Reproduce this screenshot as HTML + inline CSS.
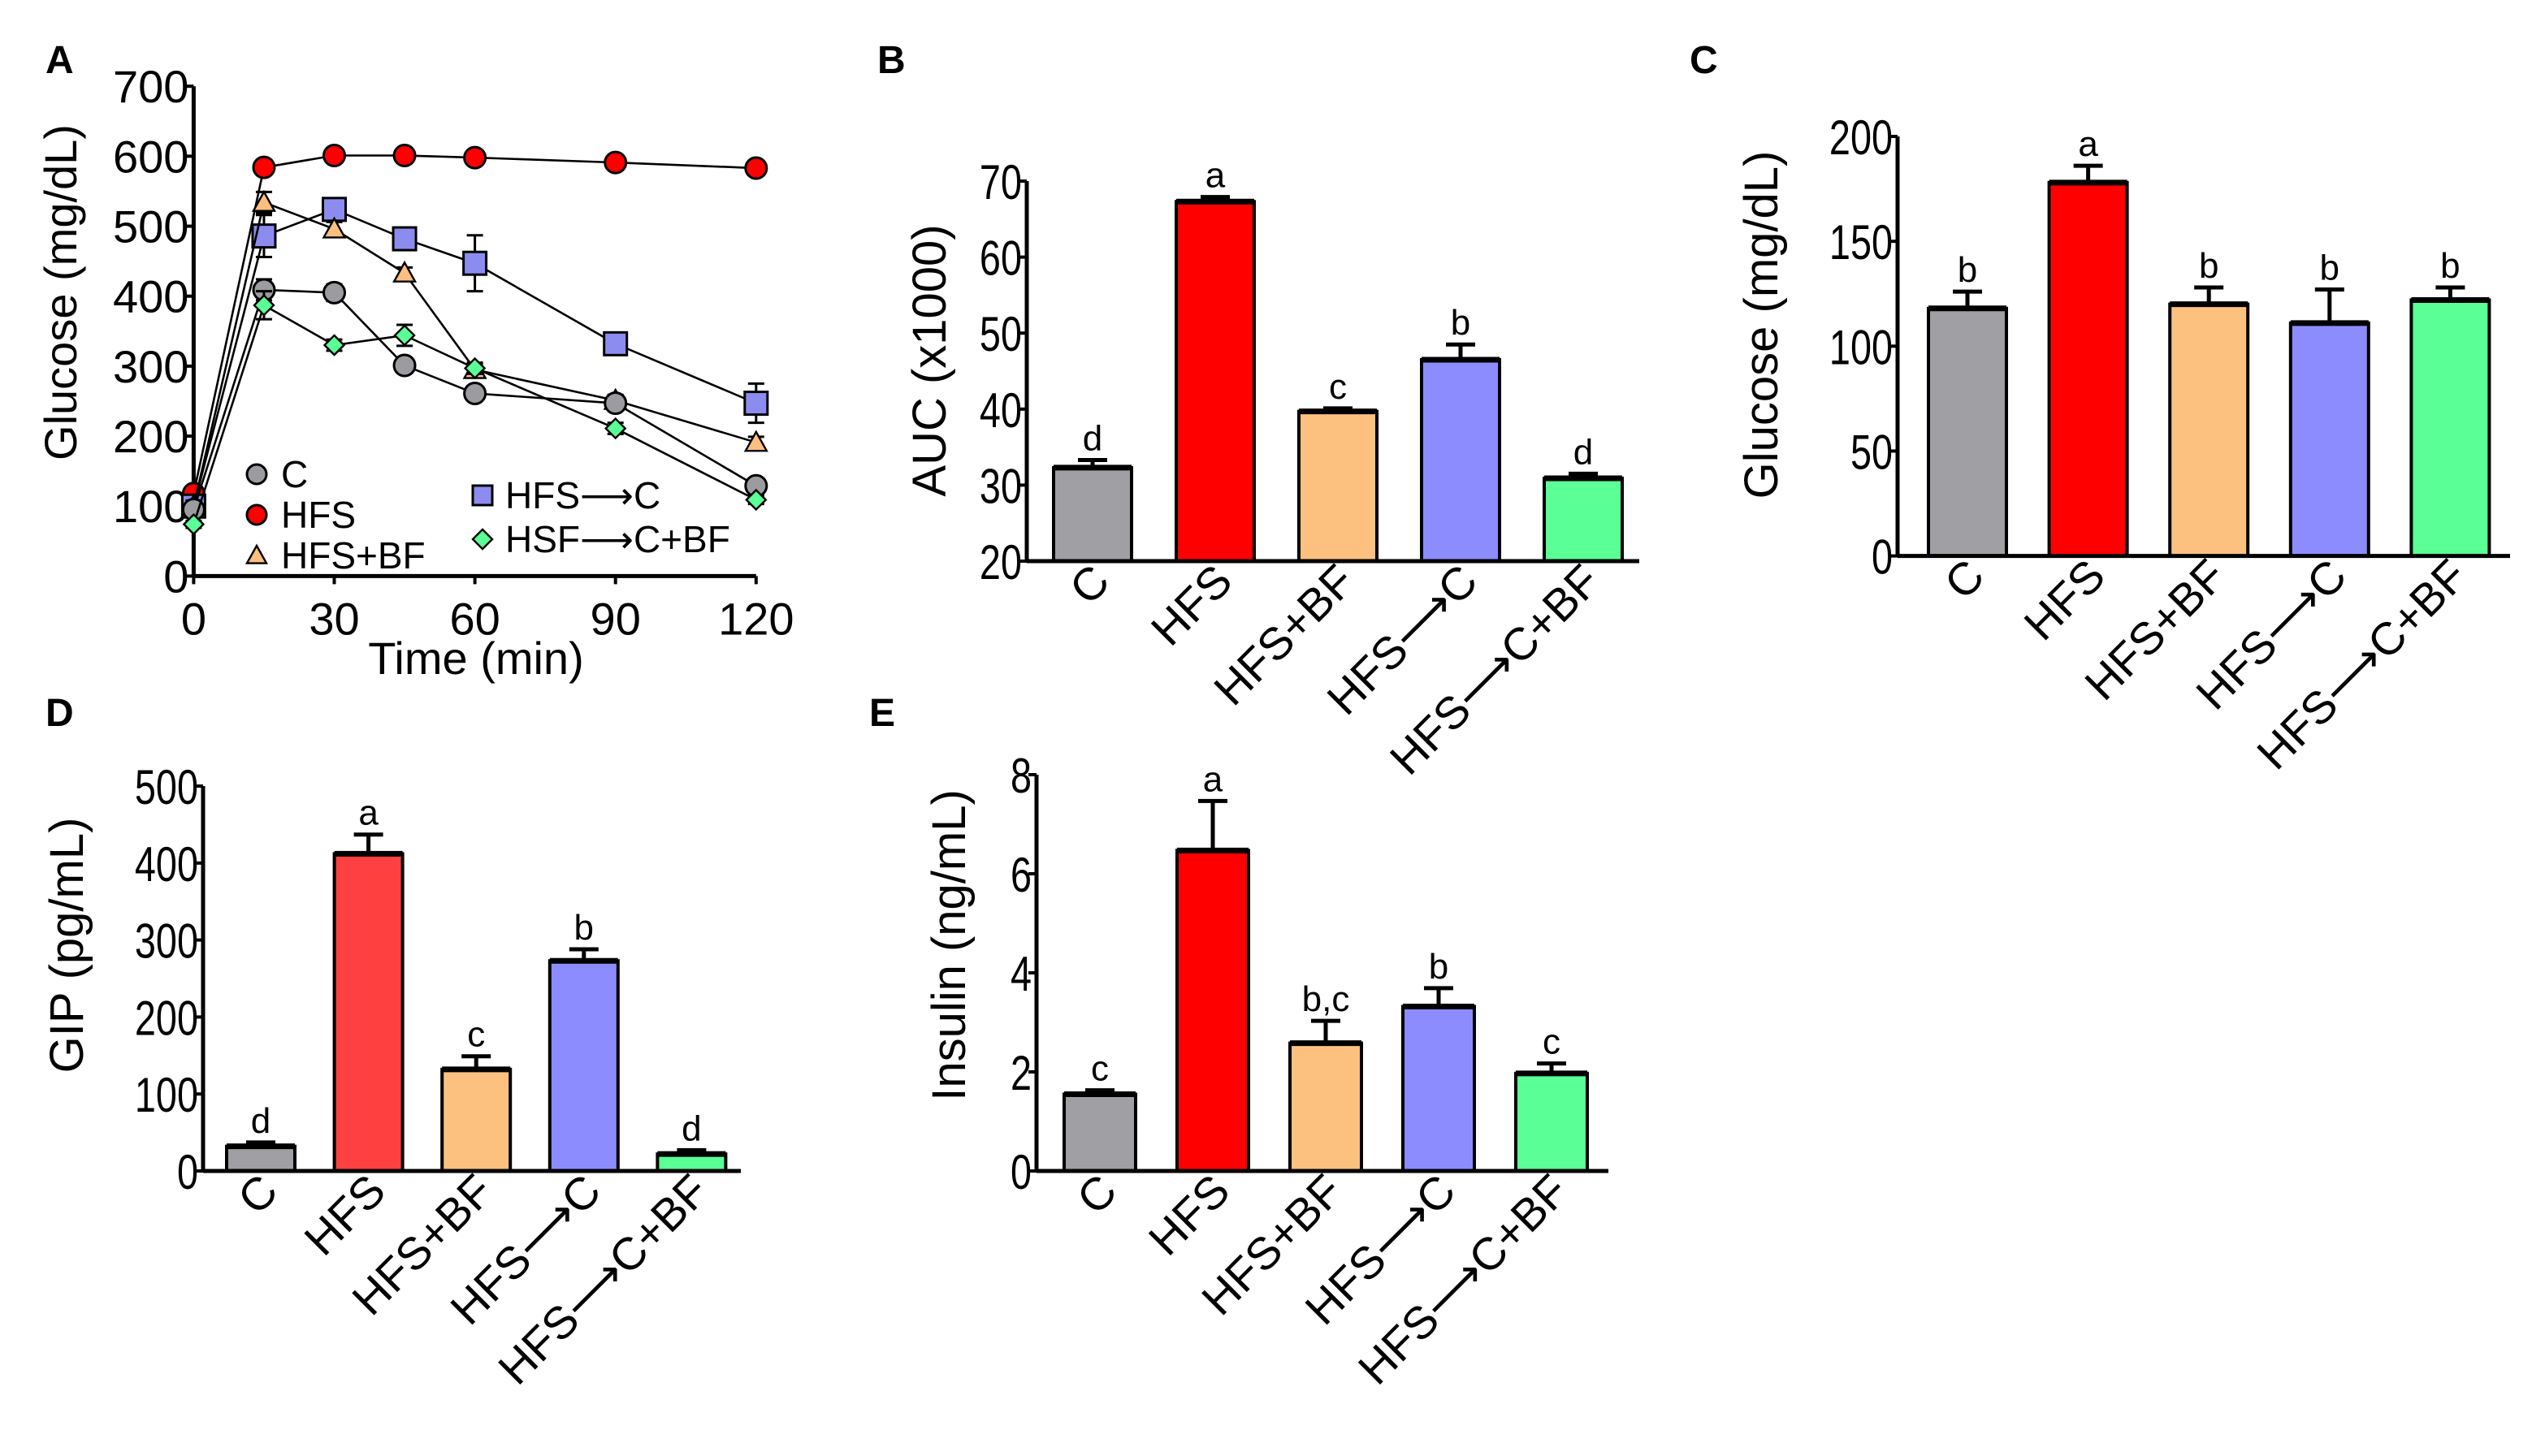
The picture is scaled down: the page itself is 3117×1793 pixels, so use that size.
<!DOCTYPE html>
<html><head><meta charset="utf-8"><style>
html,body{margin:0;padding:0;background:#fff;}
svg{display:block;font-family:"Liberation Sans",Arial,sans-serif;}
</style></head><body>
<svg id="fig" width="3117" height="1793" viewBox="0 0 1558.5 896.5" xmlns="http://www.w3.org/2000/svg"></svg>
<script>
// ---------- Panel A data ----------
const aTimes = [0, 15, 30, 45, 60, 90, 120];
const aXTicks = [0, 30, 60, 90, 120];
const aYTicks = [0, 100, 200, 300, 400, 500, 600, 700];
const aC      = [95, 409, 405, 301, 261, 247, 129];
const aCErr   = [8, 15, 12, 8, 8, 8, 10];
const aHFS    = [118, 584, 601, 601, 598, 591, 583];
const aHFSErr = [5, 5, 5, 5, 5, 5, 5];
const aBF     = [100, 534, 496, 433, 295, 251, 191];
const aBFErr  = [8, 15, 10, 8, 8, 8, 8];
const aHC     = [100, 486, 524, 482, 447, 332, 247];
const aHCErr  = [8, 30, 10, 8, 40, 8, 28];
const aHCBF   = [74, 387, 330, 344, 297, 211, 109];
const aHCBFErr= [5, 20, 8, 15, 8, 8, 6];
// ---------- Panel B data ----------
const cats = ["C", "HFS", "HFS+BF", "HFS\u27F6C", "HFS\u27F6C+BF"];
const bVals = [32.3, 67.3, 39.7, 46.5, 30.9];
const bErr  = [1.0, 0.6, 0.4, 2.0, 0.6];
const bLet  = ["d", "a", "c", "b", "d"];
const bTicks = [20, 30, 40, 50, 60, 70];
// ---------- Panel C data ----------
const cVals = [118, 178, 120, 111, 122];
const cErr  = [8, 8, 8, 16, 6];
const cLet  = ["b", "a", "b", "b", "b"];
const cTicks = [0, 50, 100, 150, 200];
// ---------- Panel D data ----------
const dVals = [32, 412, 132, 273, 22];
const dErr  = [5, 25, 17, 15, 5];
const dLet  = ["d", "a", "c", "b", "d"];
const dTicks = [0, 100, 200, 300, 400, 500];
// ---------- Panel E data ----------
const eVals = [1.55, 6.47, 2.58, 3.32, 1.97];
const eErr  = [0.08, 1.0, 0.45, 0.37, 0.2];
const eLet  = ["c", "a", "b,c", "b", "c"];
const eTicks = [0, 2, 4, 6, 8];

const NS = "http://www.w3.org/2000/svg";
const svg = document.getElementById("fig");
function mk(tag, attrs, parent) {
  const e = document.createElementNS(NS, tag);
  for (const k in attrs) e.setAttribute(k, attrs[k]);
  (parent || svg).appendChild(e);
  return e;
}
function txt(s, attrs, parent) { const t = mk("text", attrs, parent); t.textContent = s; return t; }

// ---------- Panel A ----------
(function () {
  const g = mk("g", {});
  
  
  const x0 = 119.2, x1 = 465.4, y0 = 354.7, y1 = 53.1;
  const xs = v => x0 + (v - 0) / 120 * (x1 - x0);
  const ys = v => y0 - v / 700 * (y0 - y1);
  const pl = txt("A", { x: 28, y: 45, "font-size": 24, "font-weight": "bold" }, g);
  
  
  mk("line", { x1: x0, y1: y1, x2: x0, y2: y0, stroke: "#000", "stroke-width": 2.5 }, g);
  mk("line", { x1: x0, y1: y0, x2: x1, y2: y0, stroke: "#000", "stroke-width": 2.5 }, g);
  aYTicks.forEach(v => {
    mk("line", { x1: x0 - 5, y1: ys(v), x2: x0, y2: ys(v), stroke: "#000", "stroke-width": 2 }, g);
    const t = txt(v, { x: x0 - 3, y: ys(v) + 10, "font-size": 28, "text-anchor": "end" }, g);
    
    
  });
  aXTicks.forEach(v => {
    mk("line", { x1: xs(v), y1: y0, x2: xs(v), y2: y0 + 5, stroke: "#000", "stroke-width": 2 }, g);
    const t = txt(v, { x: xs(v), y: y0 + 36, "font-size": 28, "text-anchor": "middle" }, g);
    
    
  });
  const xt = txt("Time (min)", { x: 293, y: 415, "font-size": 28, "text-anchor": "middle" }, g);
  
  
  const yt = txt("Glucose (mg/dL)", { x: 0, y: 0, "font-size": 28, "text-anchor": "middle", transform: "translate(47,180) rotate(-90)" }, g);
  
  

  const series = [
    { name: "HFS", v: aHFS, e: aHFSErr, col: "#ff0000", shape: "circle" },
    { name: "HFS-C", v: aHC, e: aHCErr, col: "#8c8cf0", shape: "square" },
    { name: "HFS+BF", v: aBF, e: aBFErr, col: "#fdbf80", shape: "tri" },
    { name: "C", v: aC, e: aCErr, col: "#9c9ca0", shape: "circle" },
    { name: "HSF-C+BF", v: aHCBF, e: aHCBFErr, col: "#5aff96", shape: "diamond" }
  ];
  function marker(shape, cx, cy, col, r, parent) {
    let m;
    if (shape === "circle") m = mk("circle", { cx: cx, cy: cy, r: r, fill: col, stroke: "#000", "stroke-width": 1.5 }, parent);
    else if (shape === "square") m = mk("rect", { x: cx - r, y: cy - r, width: 2 * r, height: 2 * r, fill: col, stroke: "#000", "stroke-width": 1.5 }, parent);
    else if (shape === "tri") m = mk("polygon", { points: `${cx},${cy - r} ${cx + r},${cy + r * 0.8} ${cx - r},${cy + r * 0.8}`, fill: col, stroke: "#000", "stroke-width": 1.2 }, parent);
    else m = mk("polygon", { points: `${cx},${cy - r} ${cx + r},${cy} ${cx},${cy + r} ${cx - r},${cy}`, fill: col, stroke: "#000", "stroke-width": 1.2 }, parent);
    return m;
  }
  series.forEach(s => {
    const sg = mk("g", {}, g);
    
    
    const pts = aTimes.map((t, i) => xs(t) + "," + ys(s.v[i])).join(" ");
    mk("polyline", { points: pts, fill: "none", stroke: "#000", "stroke-width": 1.3 }, sg);
    aTimes.forEach((t, i) => {
      const cx = xs(t);
      mk("line", { x1: cx, y1: ys(s.v[i] + s.e[i]), x2: cx, y2: ys(s.v[i] - s.e[i]), stroke: "#000", "stroke-width": 1.5 }, sg);
      mk("line", { x1: cx - 5, y1: ys(s.v[i] + s.e[i]), x2: cx + 5, y2: ys(s.v[i] + s.e[i]), stroke: "#000", "stroke-width": 1.5 }, sg);
      mk("line", { x1: cx - 5, y1: ys(s.v[i] - s.e[i]), x2: cx + 5, y2: ys(s.v[i] - s.e[i]), stroke: "#000", "stroke-width": 1.5 }, sg);
      const r = s.shape === "square" ? 7 : (s.shape === "diamond" ? 6 : 6.5);
      const m = marker(s.shape, cx, ys(s.v[i]), s.col, r, sg);
      
      
    });
  });
  const leg = [
    ["C", "circle", "#9c9ca0", 158, 292, 173],
    ["HFS", "circle", "#ff0000", 158, 317, 173],
    ["HFS+BF", "tri", "#fdbf80", 158, 342, 173],
    ["HFS\u27F6C", "square", "#8c8cf0", 297, 305, 311],
    ["HSF\u27F6C+BF", "diamond", "#5aff96", 297, 332, 311]
  ];
  leg.forEach(l => {
    const lg = mk("g", {}, g);
    
    
    marker(l[1], l[3], l[4], l[2], 6, lg);
    txt(l[0], { x: l[5], y: l[4] + 8, "font-size": 23 }, lg);
  });
})();

// ---------- bar panels ----------
function barPanel(opt) {
  const g = mk("g", {});
  
  
  const ys = v => opt.y0 - (v - opt.min) / (opt.max - opt.min) * (opt.y0 - opt.y1);
  const pl = txt(opt.label, { x: opt.lx, y: opt.ly, "font-size": 24, "font-weight": "bold" }, g);
  
  
  const colors = opt.colors;
  opt.vals.forEach((v, i) => {
    const cx = opt.c0 + i * opt.sp;
    const top = ys(v);
    const et = ys(v + opt.err[i]);
    const b = mk("rect", { x: cx - opt.bw / 2, y: top, width: opt.bw, height: opt.y0 - top, fill: colors[i], stroke: "#000", "stroke-width": 2 }, g);
    
    
    mk("line", { x1: cx - opt.bw / 2, y1: top, x2: cx + opt.bw / 2, y2: top, stroke: "#000", "stroke-width": 3.5 }, g);
    mk("line", { x1: cx, y1: top, x2: cx, y2: et, stroke: "#000", "stroke-width": 2.5 }, g);
    mk("line", { x1: cx - 9, y1: et, x2: cx + 9, y2: et, stroke: "#000", "stroke-width": 2.5 }, g);
    const lt = txt(opt.letters[i], { x: cx, y: et - 6, "font-size": 22, "text-anchor": "middle" }, g);
    
    
    const cl = txt(cats[i], { x: 0, y: 0, "font-size": 28, "text-anchor": "end", transform: `translate(${cx + 12},${opt.y0 + 14}) rotate(-45)` }, g);
    
    
  });
  mk("line", { x1: opt.x0, y1: opt.y1, x2: opt.x0, y2: opt.y0, stroke: "#000", "stroke-width": 2.5 }, g);
  mk("line", { x1: opt.x0, y1: opt.y0, x2: opt.x1, y2: opt.y0, stroke: "#000", "stroke-width": 2.5 }, g);
  opt.ticks.forEach(v => {
    mk("line", { x1: opt.x0 - 5, y1: ys(v), x2: opt.x0, y2: ys(v), stroke: "#000", "stroke-width": 2 }, g);
    const t = txt(v, { x: opt.x0 - 3, y: ys(v) + 11, "font-size": 30, "text-anchor": "end", transform: `translate(${opt.x0 - 3},0) scale(0.78,1) translate(${-(opt.x0 - 3)},0)` }, g);
    
    
  });
  const yt = txt(opt.ytitle, { x: 0, y: 0, "font-size": 29, "text-anchor": "middle", transform: `translate(${opt.tx},${opt.ty}) rotate(-90)` }, g);
  
  
}
const colsStd = ["#a0a0a4", "#ff0000", "#fdc17f", "#8c8cff", "#5aff96"];
barPanel({ name: "panel-b-auc-chart", label: "B", lx: 540, ly: 45, vals: bVals, err: bErr, letters: bLet, ticks: bTicks, min: 20, max: 70,
  x0: 632, x1: 1009, y0: 345.5, y1: 111.5, c0: 672.5, sp: 75.5, bw: 48, colors: colsStd, ytitle: "AUC (x1000)", tx: 582, ty: 222 });
barPanel({ name: "panel-c-glucose-chart", label: "C", lx: 1040, ly: 45, vals: cVals, err: cErr, letters: cLet, ticks: cTicks, min: 0, max: 200,
  x0: 1168, x1: 1545, y0: 342.3, y1: 84, c0: 1211, sp: 74.3, bw: 48, colors: colsStd, ytitle: "Glucose (mg/dL)", tx: 1094, ty: 200 });
barPanel({ name: "panel-d-gip-chart", label: "D", lx: 28, ly: 447, vals: dVals, err: dErr, letters: dLet, ticks: dTicks, min: 0, max: 500,
  x0: 125, x1: 456, y0: 721, y1: 484, c0: 160.5, sp: 66.3, bw: 42, colors: ["#a0a0a4", "#ff4040", "#fdc17f", "#8c8cff", "#5aff96"], ytitle: "GIP (pg/mL)", tx: 51, ty: 582 });
barPanel({ name: "panel-e-insulin-chart", label: "E", lx: 535, ly: 447, vals: eVals, err: eErr, letters: eLet, ticks: eTicks, min: 0, max: 8,
  x0: 638, x1: 990, y0: 721, y1: 477, c0: 677, sp: 69.5, bw: 44, colors: colsStd, ytitle: "Insulin (ng/mL)", tx: 594, ty: 582 });
</script>
</body></html>
